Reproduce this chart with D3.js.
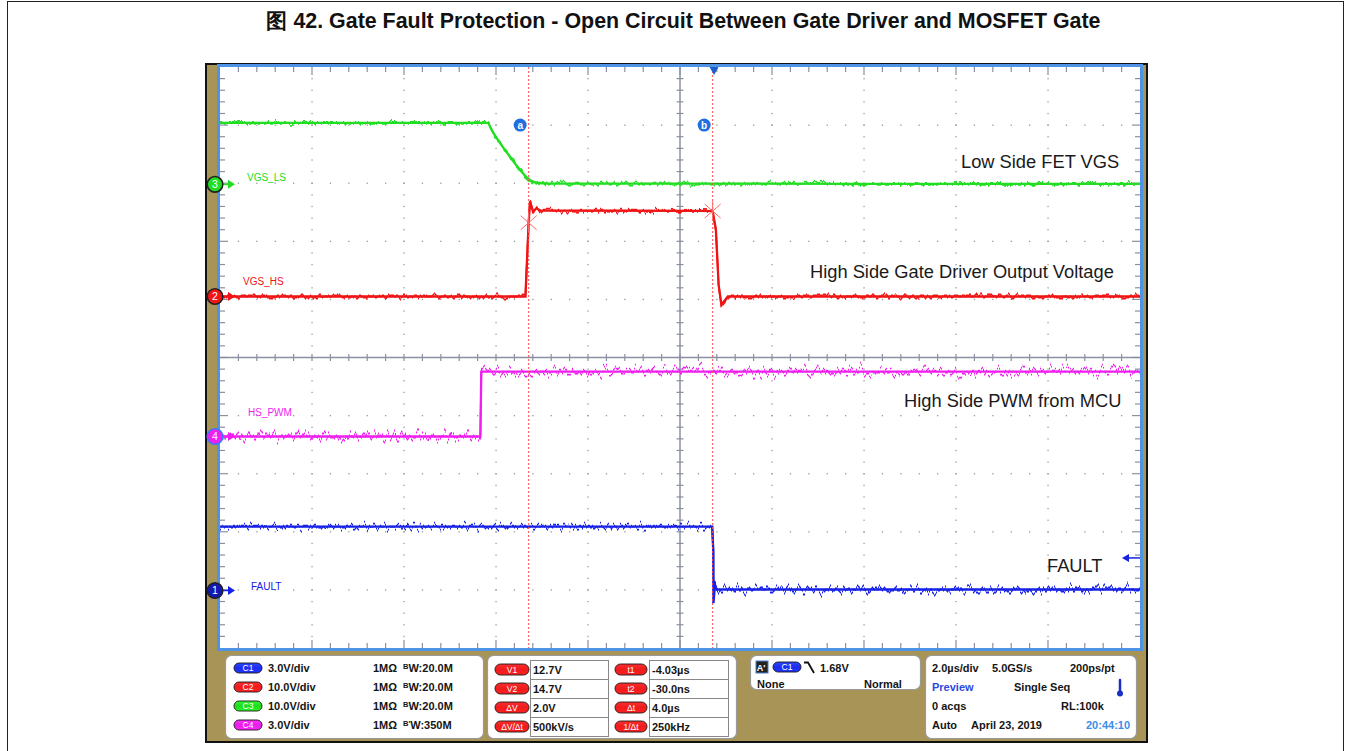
<!DOCTYPE html>
<html>
<head>
<meta charset="utf-8">
<script src="https://cdn.jsdelivr.net/npm/d3@7"></script>
<style>
  html, body { margin: 0; padding: 0; background: #fff; }
  svg { display: block; font-family: "Liberation Sans", Arial, sans-serif; }
</style>
</head>
<body>
<svg id="chart" width="1351" height="751"></svg>
<script>
// ---------- Timebase ----------
const timePerDiv = 2.0;          // µs per division
const triggerPosPct = 53.7;      // trigger point, % of screen width
const horizDivs = 10;
const vertDivs = 10;
const minorPerDiv = 5;

// ---------- Channels (index 0..3 = C1..C4) ----------
const chIds = ["1", "2", "3", "4"];
const chNames = ["FAULT", "VGS_HS", "VGS_LS", "HS_PWM"];
const chVoltsPerDiv = [3.0, 10.0, 10.0, 3.0];
const chPositionDiv = [-4.01, 1.05, 2.98, -1.36];
const chColors = ["#1620e6", "#f01414", "#22de22", "#f01ef0"];
const chBandwidth = ["20.0M", "20.0M", "20.0M", "350M"];

// ---------- Waveforms: time in µs from trigger, amplitude in volts ----------
const faultT = [-10.74, -0.040, -0.016, -0.012, 0.020, 0.060, 9.26];
const faultV = [3.30, 3.30, 2.00, -0.65, 0.30, 0.05, 0.05];

const vgsHsT = [-10.74, -4.10, -4.03, -4.00, -3.935, -3.86, -3.78, -0.30, -0.03, 0.04, 0.10, 0.16, 0.24, 0.30, 9.26];
const vgsHsV = [0.0, 0.0, 12.7, 16.4, 14.6, 15.2, 14.8, 14.75, 14.7, 11.5, 2.0, -1.4, -0.6, 0.0, 0.0];

const vgsLsT = [-10.74, -4.91, -4.87, -4.65, -4.43, -4.22, -4.00, -3.85, -3.57, 9.26];
const vgsLsV = [10.6, 10.6, 9.9, 7.1, 4.7, 2.5, 0.74, 0.28, 0.14, 0.08];

const hsPwmT = [-10.74, -5.08, -5.06, 9.26];
const hsPwmV = [0.0, 0.0, 3.35, 3.35];

// ---------- Cursors (on C2) and trigger ----------
const cursorT = [-4.03, -0.03];     // µs
const cursorV = [12.7, 14.7];       // V
const triggerLevel = 1.68;          // V on C1

// ---------- Status readouts ----------
const acqRow1 = ["2.0µs/div", "5.0GS/s", "200ps/pt"];
const acqRow2 = ["Preview", "Single Seq"];
const acqRow3 = ["0 acqs", "RL:100k"];
const acqRow4 = ["Auto", "April 23, 2019", "20:44:10"];

const titleText = "图 42. Gate Fault Protection - Open Circuit Between Gate Driver and MOSFET Gate";
const noteTexts = ["Low Side FET VGS", "High Side Gate Driver Output Voltage", "High Side PWM from MCU", "FAULT"];

// ================= drawing =================
const svg = d3.select("#chart");
const defs = svg.append("defs");

const P = { left: 220, right: 1140, top: 67, bottom: 648 };
const tSpan = horizDivs * timePerDiv;
const x = d3.scaleLinear()
  .domain([-triggerPosPct / 100 * tSpan, (1 - triggerPosPct / 100) * tSpan])
  .range([P.left, P.right]);
const xDiv = d3.scaleLinear().domain([0, horizDivs]).range([P.left, P.right]);
const yDiv = d3.scaleLinear().domain([-vertDivs / 2, vertDivs / 2]).range([P.bottom, P.top]);
const chY = chVoltsPerDiv.map((vpd, i) => d3.scaleLinear()
  .domain([(-vertDivs / 2 - chPositionDiv[i]) * vpd, (vertDivs / 2 - chPositionDiv[i]) * vpd])
  .range([P.bottom, P.top]));

// Figure frame and caption
svg.append("rect").attr("x", 7.5).attr("y", 1.5).attr("width", 1336).attr("height", 800)
  .attr("fill", "none").attr("stroke", "#222").attr("stroke-width", 1);
const title = svg.append("text").attr("x", 683.5).attr("y", 28).attr("text-anchor", "middle")
  .attr("font-weight", "bold").attr("font-size", 18).attr("fill", "#111").text(titleText);
const tw = title.node().getComputedTextLength();
title.attr("font-size", 18 * 835 / tw);

// Scope bezel
svg.append("rect").attr("x", 206).attr("y", 64).attr("width", 941).attr("height", 678)
  .attr("fill", "#a99457").attr("stroke", "#111").attr("stroke-width", 2);
svg.append("rect").attr("x", P.left - 1.5).attr("y", P.top - 1.5)
  .attr("width", P.right - P.left + 3).attr("height", P.bottom - P.top + 3)
  .attr("fill", "#fff").attr("stroke", "#4f93e6").attr("stroke-width", 3);

// ---- graticule ----
const grid = svg.append("g");
const xMinor = d3.range(0, horizDivs * minorPerDiv + 1).map(i => i / minorPerDiv);
const yMinor = d3.range(0, vertDivs * minorPerDiv + 1).map(i => i / minorPerDiv - vertDivs / 2);
const dots = [];
d3.range(1, horizDivs).filter(k => k !== horizDivs / 2).forEach(k =>
  yMinor.slice(1, -1).forEach(v => dots.push([xDiv(k), yDiv(v)])));
d3.range(1, vertDivs).map(j => j - vertDivs / 2).filter(j => j !== 0).forEach(j =>
  xMinor.slice(1, -1).forEach(u => dots.push([xDiv(u), yDiv(j)])));
grid.selectAll("rect.dot").data(dots).join("rect").attr("class", "dot")
  .attr("x", d => d[0] - 0.6).attr("y", d => d[1] - 0.6).attr("width", 1.3).attr("height", 1.3)
  .attr("fill", "#9a9a9a");

const axisCol = "#8a90a0";
// centre cross
grid.append("line").attr("x1", xDiv(horizDivs / 2)).attr("x2", xDiv(horizDivs / 2))
  .attr("y1", P.top).attr("y2", P.bottom).attr("stroke", axisCol).attr("stroke-width", 1.5);
grid.append("line").attr("x1", P.left).attr("x2", P.right)
  .attr("y1", yDiv(0)).attr("y2", yDiv(0)).attr("stroke", axisCol).attr("stroke-width", 1.5);
grid.selectAll("line.cty").data(yMinor.slice(1, -1)).join("line").attr("class", "cty")
  .attr("x1", xDiv(horizDivs / 2) - 3.5).attr("x2", xDiv(horizDivs / 2) + 3.5)
  .attr("y1", d => yDiv(d)).attr("y2", d => yDiv(d)).attr("stroke", axisCol).attr("stroke-width", 1.2);
grid.selectAll("line.ctx").data(xMinor.slice(1, -1)).join("line").attr("class", "ctx")
  .attr("x1", d => xDiv(d)).attr("x2", d => xDiv(d))
  .attr("y1", yDiv(0) - 3.5).attr("y2", yDiv(0) + 3.5).attr("stroke", axisCol).attr("stroke-width", 1.2);
// edge ticks
const isMajor = v => Math.abs(v - Math.round(v)) < 1e-6;
grid.selectAll("line.et").data(xMinor.slice(1, -1)).join("line").attr("class", "et")
  .attr("x1", d => xDiv(d)).attr("x2", d => xDiv(d))
  .attr("y1", P.top).attr("y2", d => P.top + (isMajor(d) ? 8 : 5))
  .attr("stroke", axisCol).attr("stroke-width", 1.2);
grid.selectAll("line.eb").data(xMinor.slice(1, -1)).join("line").attr("class", "eb")
  .attr("x1", d => xDiv(d)).attr("x2", d => xDiv(d))
  .attr("y1", P.bottom).attr("y2", d => P.bottom - (isMajor(d) ? 8 : 5))
  .attr("stroke", axisCol).attr("stroke-width", 1.2);
grid.selectAll("line.el").data(yMinor.slice(1, -1)).join("line").attr("class", "el")
  .attr("x1", P.left).attr("x2", d => P.left + (isMajor(d) ? 8 : 5))
  .attr("y1", d => yDiv(d)).attr("y2", d => yDiv(d))
  .attr("stroke", axisCol).attr("stroke-width", 1.2);
grid.selectAll("line.er").data(yMinor.slice(1, -1)).join("line").attr("class", "er")
  .attr("x1", P.right).attr("x2", d => P.right - (isMajor(d) ? 8 : 5))
  .attr("y1", d => yDiv(d)).attr("y2", d => yDiv(d))
  .attr("stroke", axisCol).attr("stroke-width", 1.2);

// ---- cursors ----
const curG = svg.append("g");
cursorT.forEach((t, i) => {
  const cx = x(t);
  curG.append("line").attr("x1", cx).attr("x2", cx).attr("y1", P.top).attr("y2", P.bottom)
    .attr("stroke", "#ff4d4d").attr("stroke-width", 1).attr("stroke-dasharray", "2,2");
  curG.append("circle").attr("cx", cx - 8.5).attr("cy", yDiv(vertDivs / 2 - 1)).attr("r", 6.5)
    .attr("fill", "#1f6fe0");
  curG.append("text").attr("x", cx - 8.5).attr("y", yDiv(vertDivs / 2 - 1) + 3.5)
    .attr("text-anchor", "middle").attr("font-size", 10).attr("font-weight", "bold")
    .attr("fill", "#fff").text(i === 0 ? "a" : "b");
});

// ---- noise texture for traces ----
function jitterFilter(id, scale, seed) {
  const f = defs.append("filter").attr("id", id).attr("filterUnits", "userSpaceOnUse")
    .attr("x", P.left - 5).attr("y", P.top - 20).attr("width", P.right - P.left + 10)
    .attr("height", P.bottom - P.top + 40).attr("color-interpolation-filters", "sRGB");
  f.append("feTurbulence").attr("type", "fractalNoise").attr("baseFrequency", "0.3 0.002")
    .attr("numOctaves", 2).attr("seed", seed).attr("result", "n");
  f.append("feColorMatrix").attr("in", "n").attr("type", "matrix")
    .attr("values", "0 0 0 0 0.5  0 1 0 0 0  0 0 0 0 0  0 0 0 0 1").attr("result", "m");
  f.append("feDisplacementMap").attr("in", "SourceGraphic").attr("in2", "m")
    .attr("scale", scale).attr("xChannelSelector", "R").attr("yChannelSelector", "G");
}
const noiseScale = [20, 9, 9, 26];
noiseScale.forEach((s, i) => jitterFilter("jit" + i, s, 3 + i * 7));

defs.append("clipPath").attr("id", "plotClip").append("rect")
  .attr("x", P.left).attr("y", P.top).attr("width", P.right - P.left).attr("height", P.bottom - P.top);

// ---- traces ----
const traces = [
  { ch: 3, t: hsPwmT, v: hsPwmV, curve: d3.curveLinear },
  { ch: 0, t: faultT, v: faultV, curve: d3.curveLinear },
  { ch: 2, t: vgsLsT, v: vgsLsV, curve: d3.curveMonotoneX },
  { ch: 1, t: vgsHsT, v: vgsHsV, curve: d3.curveLinear }
];
const trG = svg.append("g").attr("clip-path", "url(#plotClip)");
traces.forEach(tr => {
  const pts = tr.t.map((t, i) => [t, tr.v[i]]);
  const line = d3.line().x(d => x(d[0])).y(d => chY[tr.ch](d[1])).curve(tr.curve);
  trG.append("path").attr("d", line(pts)).attr("fill", "none")
    .attr("stroke", chColors[tr.ch]).attr("stroke-width", 2.3);
  trG.append("path").attr("d", line(pts)).attr("fill", "none")
    .attr("stroke", chColors[tr.ch]).attr("stroke-width", 1.8)
    .attr("filter", `url(#jit${tr.ch})`);
});

// cursor crossing marks on C2
cursorT.forEach((t, i) => {
  const cx = x(t), cy = chY[1](cursorV[i]);
  const g = curG.append("g").attr("transform", `translate(${cx},${cy})`)
    .attr("stroke", "#ff6a6a").attr("stroke-width", 1);
  g.append("line").attr("x1", -8).attr("y1", -7).attr("x2", 8).attr("y2", 7);
  g.append("line").attr("x1", -8).attr("y1", 7).attr("x2", 8).attr("y2", -7);
  g.append("line").attr("x1", 0).attr("y1", -10).attr("x2", 0).attr("y2", 10);
});
svg.node().appendChild(curG.node());

// trigger position and level
const trigX = x(0);
svg.append("path").attr("d", `M${trigX - 4.5},${P.top} L${trigX + 4.5},${P.top} L${trigX},${P.top + 8}Z`)
  .attr("fill", "#1a5fd0");
const trigY = chY[0](triggerLevel);
svg.append("line").attr("x1", P.right - 14).attr("x2", P.right).attr("y1", trigY).attr("y2", trigY)
  .attr("stroke", chColors[0]).attr("stroke-width", 1.5);
svg.append("path").attr("d", `M${P.right - 18},${trigY} L${P.right - 11},${trigY - 4} L${P.right - 11},${trigY + 4}Z`)
  .attr("fill", chColors[0]);

// ---- channel ground markers ----
const markerStroke = ["#222", "#222", "#222", "#3a78ff"];
chIds.forEach((id, i) => {
  const gy = chY[i](0);
  const g = svg.append("g");
  g.append("line").attr("x1", 221).attr("x2", 229).attr("y1", gy).attr("y2", gy)
    .attr("stroke", chColors[i]).attr("stroke-width", 1.5);
  g.append("path").attr("d", `M228,${gy - 4.5} L235,${gy} L228,${gy + 4.5}Z`).attr("fill", chColors[i]);
  g.append("circle").attr("cx", 215).attr("cy", gy).attr("r", 7.8)
    .attr("fill", i === 0 ? "#1218b0" : chColors[i]).attr("stroke", markerStroke[i]).attr("stroke-width", 1.6);
  g.append("text").attr("x", 215).attr("y", gy + 3.6).attr("text-anchor", "middle")
    .attr("font-size", 10.5).attr("fill", "#fff").text(id);
});

// channel labels
const chLabelPos = [[251, 589.5], [243, 285], [247, 181], [248, 415.5]];
chNames.forEach((n, i) => {
  svg.append("text").attr("x", chLabelPos[i][0]).attr("y", chLabelPos[i][1])
    .attr("font-size", 10).attr("fill", chColors[i]).text(n);
});

// annotations
const notePos = [[961, 168], [810, 278], [904, 407], [1047, 572]];
noteTexts.forEach((t, i) => {
  svg.append("text").attr("x", notePos[i][0]).attr("y", notePos[i][1])
    .attr("font-size", 18.3).attr("fill", "#1a1a1a").text(t);
});

// ================= status panels =================
function panel(x0, y0, w, h) {
  svg.append("rect").attr("x", x0 + 0.5).attr("y", y0 + 0.5).attr("width", w).attr("height", h)
    .attr("rx", 6).attr("fill", "#fff").attr("stroke", "#9a9a9a").attr("stroke-width", 1.2);
}
function gradFor(col) {
  const id = "g" + col.replace("#", "");
  if (defs.select("#" + id).empty()) {
    const lg = defs.append("linearGradient").attr("id", id).attr("x1", 0).attr("y1", 0).attr("x2", 0).attr("y2", 1);
    lg.append("stop").attr("offset", "0%").attr("stop-color", d3.color(col).brighter(1.4));
    lg.append("stop").attr("offset", "50%").attr("stop-color", col);
    lg.append("stop").attr("offset", "100%").attr("stop-color", d3.color(col).brighter(0.5));
  }
  return `url(#${id})`;
}
function pill(x0, cy, w, h, col, label) {
  svg.append("rect").attr("x", x0).attr("y", cy - h / 2).attr("width", w).attr("height", h)
    .attr("rx", h / 2).attr("fill", gradFor(col)).attr("stroke", "#1a1a1a").attr("stroke-width", 0.9);
  svg.append("text").attr("x", x0 + w / 2).attr("y", cy + 3).attr("text-anchor", "middle")
    .attr("font-size", 8.5).attr("fill", "#fff").text(label);
}
function txt(x0, y0, s, col, anchor) {
  return svg.append("text").attr("x", x0).attr("y", y0).attr("font-size", 11).attr("font-weight", "bold")
    .attr("fill", col || "#151515").attr("text-anchor", anchor || "start").text(s);
}
const fmtV = v => v.toFixed(1) + "V";

// Panel 1: vertical settings
panel(225, 655, 258, 83);
const pillCols = ["#1c2cf0", "#f01c1c", "#1ed81e", "#e81ee8"];
chIds.forEach((id, i) => {
  const cy = 668 + i * 19;
  pill(234, cy, 28, 10, pillCols[i], "C" + id);
  txt(268, cy + 4, fmtV(chVoltsPerDiv[i]) + "/div");
  txt(373, cy + 4, "1MΩ");
  const t = svg.append("text").attr("x", 403).attr("y", cy + 4).attr("font-size", 11)
    .attr("font-weight", "bold").attr("fill", "#151515");
  t.append("tspan").attr("font-size", 7.5).attr("dy", -3.5).text(i === 3 ? "B′" : "B");
  t.append("tspan").attr("dy", 3.5).text("W:" + chBandwidth[i]);
});

// Panel 2: cursor readouts
panel(487, 655, 249, 83);
const dT = cursorT[1] - cursorT[0];            // µs
const dV = cursorV[1] - cursorV[0];            // V
const fmtT = t => Math.abs(t) < 1 ? (t * 1000).toFixed(1) + "ns" : t.toFixed(2) + "µs";
const leftLabels = ["V1", "V2", "ΔV", "ΔV/Δt"];
const leftVals = [fmtV(cursorV[0]), fmtV(cursorV[1]), fmtV(dV), Math.round(dV / dT * 1000) + "kV/s"];
const rightLabels = ["t1", "t2", "Δt", "1/Δt"];
const rightVals = [fmtT(cursorT[0]), fmtT(cursorT[1]), dT.toFixed(1) + "µs", Math.round(1000 / dT) + "kHz"];
leftLabels.forEach((l, i) => {
  const y0 = 660 + i * 19, cy = y0 + 9.5;
  svg.append("rect").attr("x", 530.5).attr("y", y0 + 0.5).attr("width", 78).attr("height", 19)
    .attr("fill", "#fff").attr("stroke", "#888");
  svg.append("rect").attr("x", 649.5).attr("y", y0 + 0.5).attr("width", 79).attr("height", 19)
    .attr("fill", "#fff").attr("stroke", "#888");
  pill(495, cy, 34, 11, "#ee1c1c", l);
  pill(615, cy, 32, 11, "#ee1c1c", rightLabels[i]);
  txt(533, cy + 4, leftVals[i]);
  txt(652, cy + 4, rightVals[i]);
});

// Panel 3: trigger
panel(750, 655, 170, 34);
svg.append("rect").attr("x", 756).attr("y", 661).attr("width", 12).attr("height", 12)
  .attr("fill", "#222").attr("stroke", "#4a7fd0").attr("stroke-width", 1);
svg.append("text").attr("x", 761).attr("y", 671).attr("text-anchor", "middle")
  .attr("font-size", 9).attr("font-weight", "bold").attr("fill", "#fff").text("A'");
pill(773, 667, 28, 10, "#1c2cf0", "C1");
svg.append("path").attr("d", "M804,662.5 H808 L814,673").attr("fill", "none")
  .attr("stroke", "#111").attr("stroke-width", 1.8);
txt(820, 671.5, triggerLevel.toFixed(2) + "V");
txt(757, 688, "None");
txt(864, 688, "Normal");

// Panel 4: acquisition
panel(925, 655, 211, 83);
txt(932, 671.5, acqRow1[0]); txt(992, 671.5, acqRow1[1]); txt(1070, 671.5, acqRow1[2]);
txt(932, 690.5, acqRow2[0], "#2c48e0"); txt(1014, 690.5, acqRow2[1]);
txt(932, 710, acqRow3[0]); txt(1061, 710, acqRow3[1]);
txt(932, 729, acqRow4[0]); txt(971, 729, acqRow4[1]); txt(1086, 729, acqRow4[2], "#3a8ee8");
// thermometer glyph
svg.append("line").attr("x1", 1120).attr("x2", 1120).attr("y1", 680).attr("y2", 692)
  .attr("stroke", "#1a2fbf").attr("stroke-width", 2.5).attr("stroke-linecap", "round");
svg.append("circle").attr("cx", 1120).attr("cy", 693.5).attr("r", 3).attr("fill", "#1a2fbf");
</script>
</body>
</html>
